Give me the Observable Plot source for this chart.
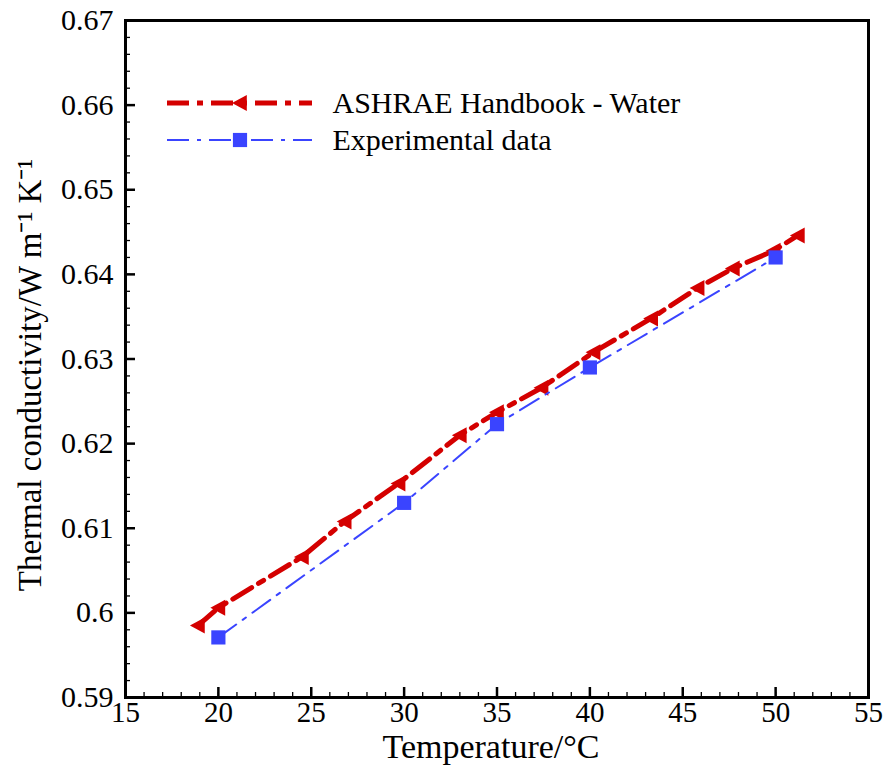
<!DOCTYPE html>
<html><head><meta charset="utf-8">
<script src="https://cdn.jsdelivr.net/npm/d3@7"></script>
<script src="https://cdn.jsdelivr.net/npm/@observablehq/plot@0.6"></script>
<style>body{margin:0;background:#fff}#chart{width:883px;height:778px}#chart svg text{font-family:serif;font-variant-numeric:normal}</style>
</head><body><div id="chart"></div>
<script>
// ---- data ----
const ashraeT = [18.9, 20.0, 24.5, 26.8, 29.7, 33.0, 35.0, 37.4, 40.2, 43.3, 45.8, 47.7, 49.9, 51.2];
const ashraeK = [0.5985, 0.6006, 0.6066, 0.6108, 0.6153, 0.6210, 0.6237, 0.6266, 0.6308, 0.6348, 0.6384, 0.6407, 0.6428, 0.6446];
const expT = [20, 30, 35, 40, 50];
const expK = [0.5971, 0.6130, 0.6223, 0.6290, 0.6420];
const seriesNames = ["ASHRAE Handbook - Water", "Experimental data"];
const xTicks = [15, 20, 25, 30, 35, 40, 45, 50, 55];
const xTickLabels = ["15", "20", "25", "30", "35", "40", "45", "50", "55"];
const yTicks = [0.59, 0.60, 0.61, 0.62, 0.63, 0.64, 0.65, 0.66, 0.67];
const yTickLabels = ["0.59", "0.6", "0.61", "0.62", "0.63", "0.64", "0.65", "0.66", "0.67"];
const xMinorTicks = d3.range(15, 55.01, 1);
const yMinorTicks = d3.range(0.59, 0.6701, 0.002);
const xTitle = "Temperature/°C";
const yTitle = "Thermal conductivity/W m⁻¹ K⁻¹";

// ---- layout / style ----
const W = 883, H = 778, mL = 125, mR = 15, mT = 20, mB = 81;
const ph = H - mT - mB, pw = W - mL - mR;
const serif = "serif";
const RED = "#d40000", BLUE = "#3a44ff";
const triLeft = {draw(ctx, size) {
  const r = Math.sqrt(size / Math.PI);
  ctx.moveTo(-r, 0); ctx.lineTo(r * 0.85, -r); ctx.lineTo(r * 0.85, r); ctx.closePath();
}};

const ashrae = ashraeT.map((t, i) => ({t, k: ashraeK[i]}));
const exp = expT.map((t, i) => ({t, k: expK[i]}));
const xLab = xTicks.map((v, i) => ({v, s: xTickLabels[i]}));
const yLab = yTicks.map((v, i) => ({v, s: yTickLabels[i]}));

const plot = Plot.plot({
  width: W, height: H,
  marginLeft: mL, marginRight: mR, marginTop: mT, marginBottom: mB,
  style: {background: "#fff", color: "#000", overflow: "visible"},
  x: {domain: [15, 55], axis: null},
  y: {domain: [0.59, 0.67], axis: null},
  marks: [
    Plot.tickX(xMinorTicks, {x: d => d, insetTop: ph - 5, stroke: "#000", strokeWidth: 1.3}),
    Plot.tickX(xTicks, {x: d => d, insetTop: ph - 10, stroke: "#000", strokeWidth: 2.5}),
    Plot.tickY(yMinorTicks, {y: d => d, insetRight: pw - 5, stroke: "#000", strokeWidth: 1.3}),
    Plot.tickY(yTicks, {y: d => d, insetRight: pw - 10, stroke: "#000", strokeWidth: 2.5}),
    Plot.text(xLab, {x: "v", text: "s", frameAnchor: "bottom", lineAnchor: "top", dy: 4, fontSize: 29, fontFamily: serif, fontVariant: "normal"}),
    Plot.text(yLab, {y: "v", text: "s", frameAnchor: "left", textAnchor: "end", dx: -12, fontSize: 30, fontFamily: serif, fontVariant: "normal"}),
    Plot.line(ashrae, {x: "t", y: "k", stroke: RED, strokeWidth: 5, strokeDasharray: "22,8,6,8"}),
    Plot.dot(ashrae, {x: "t", y: "k", symbol: triLeft, r: 8, fill: RED, stroke: null}),
    Plot.line(exp, {x: "t", y: "k", stroke: BLUE, strokeWidth: 2, strokeDasharray: "22,8,4,8"}),
    Plot.dot(exp, {x: "t", y: "k", symbol: "square", r: 8, fill: BLUE, stroke: null}),
    Plot.frame({stroke: "#000", strokeWidth: 3}),
    Plot.text([seriesNames[0]], {frameAnchor: "top-left", textAnchor: "start", lineAnchor: "middle", dx: 207, dy: 83, fontSize: 30, fontFamily: serif}),
    Plot.text([seriesNames[1]], {frameAnchor: "top-left", textAnchor: "start", lineAnchor: "middle", dx: 207, dy: 120, fontSize: 30, fontFamily: serif}),
    Plot.text([xTitle], {frameAnchor: "bottom", dy: 60, dx: -6, fontSize: 34, fontFamily: serif}),
    Plot.text([yTitle], {frameAnchor: "left", textAnchor: "middle", rotate: -90, dx: -95, dy: 16, fontSize: 33, fontFamily: serif})
  ]
});
plot.setAttribute("font-family", serif);
document.getElementById("chart").appendChild(plot);

// ---- legend samples (inside the frame, top-left) ----
const svg = d3.select(plot);
const lg = svg.append("g");
const items = [
  {color: RED, sw: 5, dash: "22,8,6,8", sym: triLeft, y: 103},
  {color: BLUE, sw: 2, dash: "22,8,4,8", sym: d3.symbolSquare, y: 140}
];
items.forEach(it => {
  lg.append("line").attr("x1", 167).attr("x2", 312).attr("y1", it.y).attr("y2", it.y)
    .attr("stroke", it.color).attr("stroke-width", it.sw).attr("stroke-dasharray", it.dash);
  lg.append("path").attr("transform", `translate(240,${it.y})`)
    .attr("d", d3.symbol(it.sym, 8 * 8 * Math.PI)()).attr("fill", it.color);
});
</script>
</body></html>
